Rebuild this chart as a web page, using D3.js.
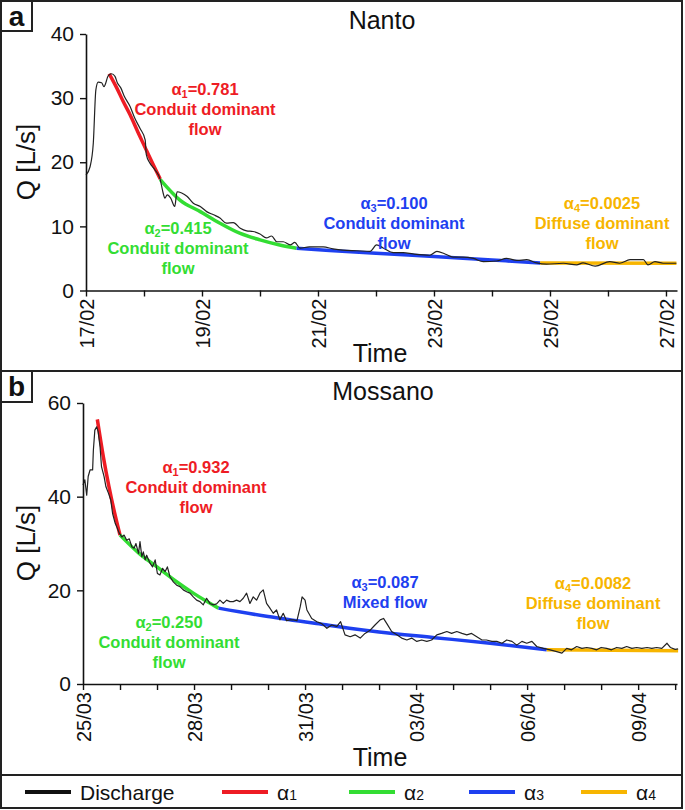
<!DOCTYPE html>
<html><head><meta charset="utf-8">
<script src="https://cdn.jsdelivr.net/npm/d3@7"></script>
<style>body{margin:0;background:#fff} svg{display:block;font-family:"Liberation Sans",Arial,Helvetica,sans-serif}</style>
</head><body><svg id="c" width="685" height="810"></svg>
<script>
// ---------- DATA (t = days since first day, Q in L/s) ----------
const nantoStart = "17/02/2018";
const nantoTickLabels = ["17/02","19/02","21/02","23/02","25/02","27/02"];
const nantoDischarge = [[0,18.0],[0.07,19.3],[0.126,23],[0.17,31.3],[0.21,32.5],[0.27,32.4],[0.31,31.8],[0.385,33.5],[0.44,33.8],[0.5,33.4],[0.54,32.4],[0.6,31.6],[0.66,30.3],[0.76,28.7],[0.84,26.9],[0.93,25.3],[1.02,23.5],[1.04,21.2],[1.1,19.9],[1.19,18.8],[1.28,17.3],[1.33,15.2],[1.36,14.4],[1.40,14.9],[1.46,14.4],[1.53,13.1],[1.57,15.4],[1.65,15.2],[1.74,14.7],[1.85,13.6],[1.97,13.1],[2.08,12.3],[2.2,11.8],[2.31,11.3],[2.42,10.5],[2.54,10.6],[2.66,9.7],[2.77,9.3],[2.88,9.2],[3.0,8.8],[3.11,8.2],[3.2,8.5],[3.29,7.6],[3.4,7.6],[3.52,7.1],[3.6,7.5],[3.69,6.6],[3.85,6.8],[4.09,6.8],[4.26,6.5],[4.43,6.3],[4.67,6.2],[4.9,6.1],[5.01,7.1],[5.13,6.6],[5.3,5.9],[5.47,5.9],[5.64,5.7],[5.93,5.5],[6.05,6.1],[6.19,5.7],[6.33,5.2],[6.5,5.2],[6.68,5.0],[6.85,4.5],[7.08,4.6],[7.25,5.0],[7.43,4.7],[7.6,4.8],[7.77,4.3],[7.94,4.1],[8.23,4.25],[8.46,4.0],[8.57,4.3],[8.78,3.8],[9.03,4.5],[9.2,4.25],[9.38,4.8],[9.61,4.8],[9.69,4.0],[9.81,4.5],[9.95,4.25],[10.18,4.25]];
const nantoAlpha1 = [[0.40,33.8],[0.53,31.6],[0.64,29.5],[0.76,27.4],[0.90,24.6],[1.05,21.7],[1.16,19.6],[1.28,17.4]];
const nantoAlpha2 = [[1.28,17.3],[1.62,14.1],[1.97,12.3],[2.31,10.5],[2.66,8.9],[3.0,7.9],[3.34,7.1],[3.63,6.6]];
const nantoAlpha3 = [[3.63,6.6],[4.2,6.25],[5.0,5.8],[6.0,5.3],[7.0,4.75],[7.83,4.3]];
const nantoAlpha4 = [[7.83,4.3],[10.18,4.25]];

const mossanoStart = "25/03/2018";
const mossanoTickLabels = ["25/03","28/03","31/03","03/04","06/04","09/04"];
const mossanoDischarge = [[0,42.5],[0.05,43.6],[0.1,40.3],[0.14,44.3],[0.19,45.7],[0.26,45.7],[0.28,49.9],[0.32,54.2],[0.37,54.9],[0.41,53.9],[0.46,50.7],[0.5,46.4],[0.57,44.3],[0.62,42.1],[0.69,40.7],[0.75,39.3],[0.8,36.4],[0.87,34.3],[0.91,33.6],[0.98,32.2],[1.05,31.4],[1.11,31.8],[1.18,30.7],[1.25,31.0],[1.32,29.3],[1.38,29.0],[1.43,30.0],[1.5,27.9],[1.54,30.4],[1.59,27.2],[1.63,28.2],[1.68,26.5],[1.72,27.5],[1.81,25.8],[1.88,25.0],[1.95,26.5],[2.01,23.6],[2.08,23.3],[2.15,24.7],[2.22,24.0],[2.28,25.0],[2.35,22.9],[2.44,21.8],[2.53,21.1],[2.62,20.8],[2.71,20.1],[2.8,19.7],[2.89,19.4],[2.98,18.6],[3.07,17.9],[3.16,17.6],[3.25,16.9],[3.34,18.3],[3.43,17.2],[3.52,16.9],[3.61,17.1],[3.7,17.9],[3.79,17.2],[3.88,17.9],[3.97,17.6],[4.06,17.6],[4.15,17.9],[4.24,17.6],[4.33,18.3],[4.42,19.4],[4.51,17.2],[4.6,18.6],[4.69,17.9],[4.78,19.4],[4.87,20.1],[4.96,17.2],[5.05,16.2],[5.14,15.1],[5.23,15.8],[5.32,13.7],[5.41,15.1],[5.5,13.5],[5.6,13.7],[5.69,13.7],[5.78,13.5],[5.87,16.5],[5.92,18.6],[6.0,17.9],[6.05,15.8],[6.18,14.0],[6.32,13.3],[6.45,12.9],[6.59,11.9],[6.72,12.6],[6.86,12.3],[6.96,13.3],[7.08,10.5],[7.22,10.1],[7.35,10.5],[7.49,9.8],[7.62,10.8],[7.76,11.5],[7.89,12.6],[8.03,13.7],[8.12,14.0],[8.21,12.9],[8.34,11.2],[8.48,10.5],[8.61,9.8],[8.75,9.4],[8.88,9.8],[9.02,9.1],[9.15,9.4],[9.29,9.1],[9.42,9.4],[9.56,10.5],[9.69,10.8],[9.83,11.2],[9.96,10.8],[10.1,11.2],[10.24,10.8],[10.37,10.5],[10.5,10.8],[10.64,10.1],[10.78,9.4],[10.9,9.4],[11.05,9.1],[11.18,9.1],[11.32,8.7],[11.45,9.4],[11.59,9.1],[11.72,8.3],[11.86,9.1],[11.99,8.7],[12.13,9.1],[12.26,8.0],[12.44,7.6],[12.62,7.3],[12.8,6.9],[12.94,6.6],[13.07,7.6],[13.2,7.3],[13.34,8.0],[13.48,7.6],[13.61,7.8],[13.75,7.6],[13.88,7.3],[14.0,7.8],[14.15,7.6],[14.28,7.3],[14.42,7.8],[14.56,7.6],[14.69,8.0],[14.83,7.6],[14.96,7.8],[15.1,7.6],[15.24,7.8],[15.37,7.6],[15.5,7.8],[15.64,7.6],[15.78,8.7],[15.87,7.8],[16.0,7.4],[16.08,7.5]];
const mossanoAlpha1 = [[0.387,56.5],[0.55,48.5],[0.7,42.2],[0.85,36.7],[1.0,31.8]];
const mossanoAlpha2 = [[1.0,31.8],[1.5,28.0],[2.0,25.0],[2.5,22.0],[3.0,19.3],[3.66,16.2]];
const mossanoAlpha3 = [[3.66,16.2],[5.0,14.4],[6.5,12.7],[8.0,11.1],[9.5,9.9],[11.0,8.7],[12.53,7.3]];
const mossanoAlpha4 = [[12.53,7.3],[14.3,7.2],[16.08,7.1]];

const seriesNames = ["Discharge","α1","α2","α3","α4"];
const seriesColors = ["#111111","#ee1c24","#33dd33","#1e40f0","#f7b500"];

const nantoNotes = [
  {k:1, a:"0.781", lines:["Conduit dominant","flow"]},
  {k:2, a:"0.415", lines:["Conduit dominant","flow"]},
  {k:3, a:"0.100", lines:["Conduit dominant","flow"]},
  {k:4, a:"0.0025", lines:["Diffuse dominant","flow"]}
];
const mossanoNotes = [
  {k:1, a:"0.932", lines:["Conduit dominant","flow"]},
  {k:2, a:"0.250", lines:["Conduit dominant","flow"]},
  {k:3, a:"0.087", lines:["Mixed flow"]},
  {k:4, a:"0.0082", lines:["Diffuse dominant","flow"]}
];

// ---------- LAYOUT ----------
const svg = d3.select("#c");
svg.append("rect").attr("width",685).attr("height",810).attr("fill","#fff");
const parse = d3.utcParse("%d/%m/%Y");
const DAY = 864e5;

function drawPanel(cfg){
  const start = parse(cfg.start);
  const toDate = t => new Date(start.getTime() + t*DAY);
  const x = d3.scaleUtc().domain([start, toDate(cfg.days)]).range([cfg.x0, cfg.x1]);
  const y = d3.scaleLinear().domain([0, cfg.ymax]).range([cfg.yb, cfg.yt]);
  const g = svg.append("g");

  const fitLine = d3.line().x(d=>x(toDate(d[0]))).y(d=>y(d[1])).curve(d3.curveMonotoneX);
  cfg.fits.forEach((f,i)=>{
    g.append("path").attr("d", fitLine(f)).attr("fill","none")
      .attr("stroke", seriesColors[i+1]).attr("stroke-width",3.5).attr("stroke-linecap","butt");
  });
  const qLine = d3.line().x(d=>x(toDate(d[0]))).y(d=>y(d[1])).curve(cfg.smooth ? d3.curveMonotoneX : d3.curveLinear);
  g.append("path").attr("d", qLine(cfg.discharge)).attr("fill","none")
    .attr("stroke","#222").attr("stroke-width",1.2).attr("stroke-linejoin","round");

  const ya = g.append("g").attr("transform",`translate(${cfg.x0},0)`)
    .call(d3.axisLeft(y).tickValues(d3.range(0,cfg.ymax+1,cfg.ystep)).tickSize(6).tickSizeOuter(0).tickPadding(6));
  ya.select(".domain").attr("stroke","#111").attr("stroke-width",1.6);
  ya.selectAll(".tick line").attr("stroke","#111").attr("stroke-width",1.4);
  ya.selectAll(".tick text").attr("font-size",21).attr("fill","#111").style("font-family","'Liberation Sans',Arial,sans-serif");

  const labelDates = cfg.labels.map(l=>parse(l+"/2018").getTime());
  const days = d3.utcDay.range(start, new Date(toDate(cfg.days).getTime()+1));
  const xa = g.append("g").attr("transform",`translate(0,${cfg.yb})`)
    .call(d3.axisBottom(x).tickValues(days).tickSize(6).tickSizeOuter(0)
      .tickFormat(d=>{const i=labelDates.indexOf(d.getTime()); return i>=0?cfg.labels[i]:"";}));
  xa.select(".domain").attr("stroke","#111").attr("stroke-width",1.6);
  xa.selectAll(".tick line").attr("stroke","#111").attr("stroke-width",1.4);
  xa.selectAll(".tick text").attr("font-size",20).attr("fill","#111")
    .attr("transform","rotate(-90)").attr("x",-8).attr("y",0).attr("dy","0.36em")
    .attr("text-anchor","end").style("font-family","'Liberation Sans',Arial,sans-serif");

  g.append("text").attr("x",cfg.titleX).attr("y",cfg.titleY).attr("text-anchor","middle")
    .attr("font-size",25).attr("fill","#111").text(cfg.title);
  g.append("text").attr("x",380).attr("y",cfg.timeY).attr("text-anchor","middle")
    .attr("font-size",25).attr("fill","#111").text("Time");
  g.append("text").attr("transform",`translate(35,${cfg.qY}) rotate(-90)`).attr("text-anchor","middle")
    .attr("font-size",26).attr("fill","#111").text("Q [L/s]");

  cfg.notes.forEach((n,i)=>{
    const pos = cfg.notePos[i];
    const col = seriesColors[n.k];
    const t = g.append("text").attr("text-anchor","middle").attr("font-weight","bold")
      .attr("font-size",16.5).attr("fill",col);
    const l0 = t.append("tspan").attr("x",pos[0]).attr("y",pos[1]);
    l0.append("tspan").text("α");
    l0.append("tspan").attr("font-size",11).attr("dy",3).text(n.k);
    l0.append("tspan").attr("dy",-3).text("="+n.a);
    n.lines.forEach((ln,j)=>{
      t.append("tspan").attr("x",pos[0]).attr("y",pos[1]+ (j+1)*20).text(ln);
    });
  });
}

drawPanel({start:nantoStart, days:10.19, x0:86, x1:677, ymax:40, ystep:10, yb:290.5, yt:34,
  labels:nantoTickLabels, discharge:nantoDischarge, smooth:true,
  fits:[nantoAlpha1,nantoAlpha2,nantoAlpha3,nantoAlpha4],
  title:"Nanto", titleX:382, titleY:29, timeY:362, qY:162,
  notes:nantoNotes, notePos:[[205,95],[178,234],[394,209],[602,209]]});

drawPanel({start:mossanoStart, days:16.05, x0:83, x1:677, ymax:60, ystep:20, yb:684, yt:403,
  labels:mossanoTickLabels, discharge:mossanoDischarge, smooth:false,
  fits:[mossanoAlpha1,mossanoAlpha2,mossanoAlpha3,mossanoAlpha4],
  title:"Mossano", titleX:383, titleY:400, timeY:766, qY:543,
  notes:mossanoNotes, notePos:[[196,473],[169,628],[385,588],[593,589]]});

// ---------- FRAME ----------
const frame = svg.append("g").attr("fill","none").attr("stroke","#222").attr("stroke-width",2);
frame.append("rect").attr("x",1).attr("y",1).attr("width",681).attr("height",807);
frame.append("line").attr("x1",0).attr("x2",682).attr("y1",371).attr("y2",371);
frame.append("line").attr("x1",0).attr("x2",682).attr("y1",775).attr("y2",775);
frame.append("rect").attr("x",1).attr("y",1).attr("width",31).attr("height",30);
frame.append("rect").attr("x",1).attr("y",371).attr("width",31).attr("height",31);
svg.append("text").attr("x",16.5).attr("y",26).attr("text-anchor","middle").attr("font-weight","bold")
  .attr("font-size",28).attr("fill","#111").text("a");
svg.append("text").attr("x",16.5).attr("y",396).attr("text-anchor","middle").attr("font-weight","bold")
  .attr("font-size",28).attr("fill","#111").text("b");

// ---------- LEGEND ----------
const legendX = [25,222,349,469,581];
const leg = svg.append("g");
seriesNames.forEach((name,i)=>{
  leg.append("line").attr("x1",legendX[i]).attr("x2",legendX[i]+46).attr("y1",792).attr("y2",792)
    .attr("stroke",seriesColors[i]).attr("stroke-width",4);
  const t = leg.append("text").attr("x",legendX[i]+55).attr("y",800).attr("font-size",21).attr("fill","#111");
  if(i===0){ t.text(name); }
  else { t.append("tspan").text(name[0]); t.append("tspan").attr("font-size",14).text(name.slice(1)); }
});
</script></body></html>
